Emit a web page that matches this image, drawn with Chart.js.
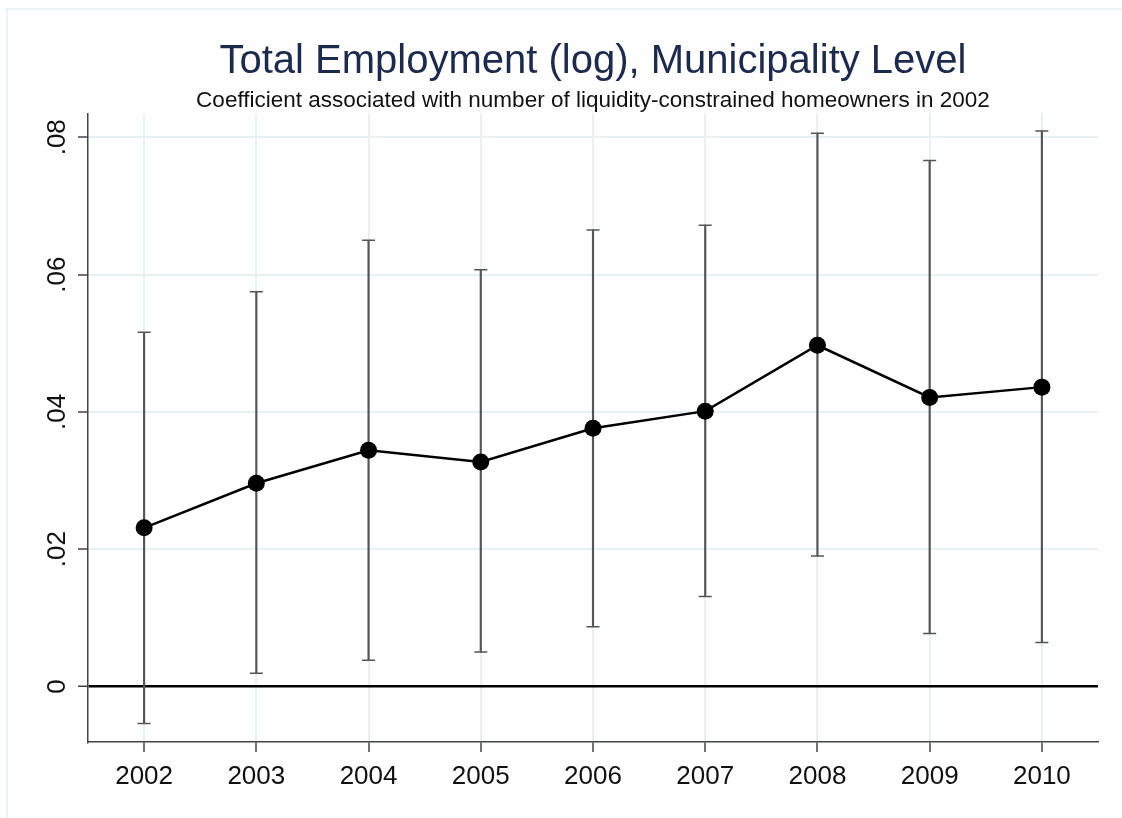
<!DOCTYPE html>
<html>
<head>
<meta charset="utf-8">
<script src="https://cdn.jsdelivr.net/npm/chart.js@4/dist/chart.umd.min.js"></script>
<style>
  html, body { margin: 0; padding: 0; background: #ffffff; }
  #wrap { width: 1122px; height: 818px; position: relative; }
</style>
</head>
<body>
<div id="wrap"><canvas id="c" width="1122" height="818"></canvas></div>
<script>
const years = ['2002','2003','2004','2005','2006','2007','2008','2009','2010'];
const coef  = [0.0231, 0.0296, 0.0344, 0.0327, 0.0376, 0.0401, 0.0497, 0.0421, 0.0436];
const ciLow = [-0.0054, 0.0019, 0.0038, 0.0050, 0.0087, 0.0131, 0.0190, 0.0077, 0.0064];
const ciHigh= [0.0516, 0.0575, 0.0650, 0.0607, 0.0665, 0.0672, 0.0806, 0.0766, 0.0809];
const yTicks = [0, 0.02, 0.04, 0.06, 0.08];
const yTickLabels = ['0', '.02', '.04', '.06', '.08'];
const titleText = 'Total Employment (log), Municipality Level';
const subtitleText = 'Coefficient associated with number of liquidity-constrained homeowners in 2002';

const FONT = "'Liberation Sans', Arial, sans-serif";
const ERR = '#555555';

const framePlugin = {
  id: 'frame',
  beforeDraw(chart) {
    const ctx = chart.ctx;
    ctx.save();
    ctx.fillStyle = '#ffffff';
    ctx.fillRect(0, 0, chart.width, chart.height);
    ctx.strokeStyle = '#eef2f4';
    ctx.lineWidth = 2;
    ctx.beginPath();
    ctx.moveTo(5, 9); ctx.lineTo(chart.width, 9);
    ctx.moveTo(7, 9); ctx.lineTo(7, chart.height);
    ctx.stroke();
    ctx.restore();
  }
};

const yLabelPlugin = {
  id: 'ylabels',
  afterDraw(chart) {
    const ctx = chart.ctx;
    const y = chart.scales.y;
    ctx.save();
    ctx.font = '26px ' + FONT;
    ctx.fillStyle = '#111111';
    ctx.textAlign = 'center';
    ctx.textBaseline = 'middle';
    yTicks.forEach((v, i) => {
      const py = y.getPixelForValue(v);
      ctx.save();
      ctx.translate(58, py);
      ctx.rotate(-Math.PI / 2);
      ctx.fillText(yTickLabels[i], 0, 0);
      ctx.restore();
    });
    ctx.restore();
  }
};

new Chart(document.getElementById('c'), {
  data: {
    labels: years,
    datasets: [
      {
        type: 'line',
        data: coef,
        borderColor: '#000000',
        backgroundColor: '#000000',
        borderWidth: 2.5,
        pointRadius: 8.5,
        pointHoverRadius: 8.5,
        pointBackgroundColor: '#000000',
        pointBorderWidth: 0,
        tension: 0,
        order: 0
      },
      {
        type: 'bar',
        data: ciLow.map((l, i) => [l, ciHigh[i]]),
        backgroundColor: ERR,
        borderWidth: 0,
        barThickness: 1.5,
        grouped: false,
        order: 3
      },
      {
        type: 'line',
        data: ciHigh,
        showLine: false,
        pointStyle: 'line',
        pointRadius: 6.5,
        pointBorderWidth: 1.5,
        pointBorderColor: ERR,
        borderColor: ERR,
        order: 2
      },
      {
        type: 'line',
        data: ciLow,
        showLine: false,
        pointStyle: 'line',
        pointRadius: 6.5,
        pointBorderWidth: 1.5,
        pointBorderColor: ERR,
        borderColor: ERR,
        order: 2
      }
    ]
  },
  options: {
    responsive: false,
    animation: false,
    devicePixelRatio: 1,
    layout: { padding: { top: 19, right: 24, left: 0, bottom: 0 } },
    plugins: {
      legend: { display: false },
      tooltip: { enabled: false },
      title: {
        display: true,
        text: titleText,
        fullSize: false,
        color: '#1c2a4e',
        font: { family: FONT, size: 40, weight: 'normal', lineHeight: 1.2 },
        padding: { top: 19, bottom: 0 }
      },
      subtitle: {
        display: true,
        text: subtitleText,
        fullSize: false,
        color: '#111111',
        font: { family: FONT, size: 22.5, weight: 'normal', lineHeight: 1.1 },
        padding: { top: 2.5, bottom: 0 }
      }
    },
    scales: {
      x: {
        type: 'category',
        offset: true,
        grid: {
          offset: false,
          color: '#e8f0f2',
          lineWidth: 2,
          drawTicks: true,
          tickLength: 10,
          tickColor: '#444444',
          tickWidth: 1.5
        },
        border: { display: true, color: '#444444', width: 1.5 },
        ticks: {
          color: '#111111',
          font: { family: FONT, size: 26 },
          padding: 9,
          maxRotation: 0,
          minRotation: 0
        },
        afterFit(scale) { scale.height = 76; }
      },
      y: {
        type: 'linear',
        min: -0.0081,
        max: 0.0835,
        afterBuildTicks(scale) { scale.ticks = yTicks.map(v => ({ value: v })); },
        grid: {
          color: (c) => (c.tick && c.tick.value === 0) ? '#000000' : '#e8f0f2',
          lineWidth: (c) => (c.tick && c.tick.value === 0) ? 2.5 : 2,
          drawTicks: true,
          tickLength: 10,
          tickColor: '#444444',
          tickWidth: 1.5
        },
        border: { display: true, color: '#444444', width: 1.5 },
        ticks: { display: false },
        afterFit(scale) { scale.width = 88; }
      }
    }
  },
  plugins: [framePlugin, yLabelPlugin]
});
</script>
</body>
</html>
